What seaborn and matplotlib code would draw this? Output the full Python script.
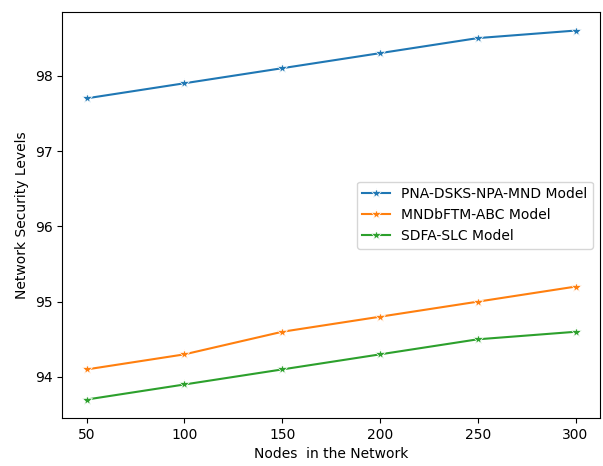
import matplotlib
matplotlib.use("Agg")
import matplotlib.pyplot as plt
import seaborn as sns
import pandas as pd

nodes = [50, 100, 150, 200, 250, 300]
pna_dsks = [97.7, 97.9, 98.1, 98.3, 98.5, 98.6]
mndbftm = [94.1, 94.3, 94.6, 94.8, 95.0, 95.2]
sdfa_slc = [93.7, 93.9, 94.1, 94.3, 94.5, 94.6]
model_names = ["PNA-DSKS-NPA-MND Model", "MNDbFTM-ABC Model", "SDFA-SLC Model"]

df = pd.DataFrame({
    "Nodes": nodes * 3,
    "Security": pna_dsks + mndbftm + sdfa_slc,
    "Model": [m for m in model_names for _ in nodes],
})

fig, ax = plt.subplots(figsize=(6.03, 4.66), dpi=100)
sns.lineplot(data=df, x="Nodes", y="Security", hue="Model", marker="*",
             markersize=7, markeredgewidth=0.5, palette="tab10", ax=ax)

ax.set_xticks(nodes)
ax.set_xlabel("Nodes  in the Network")
ax.set_ylabel("Network Security Levels")
ax.legend(loc="center right", title=None)

plt.subplots_adjust(left=0.103, right=0.995, top=0.974, bottom=0.103)
plt.savefig("out.png", dpi=100)
